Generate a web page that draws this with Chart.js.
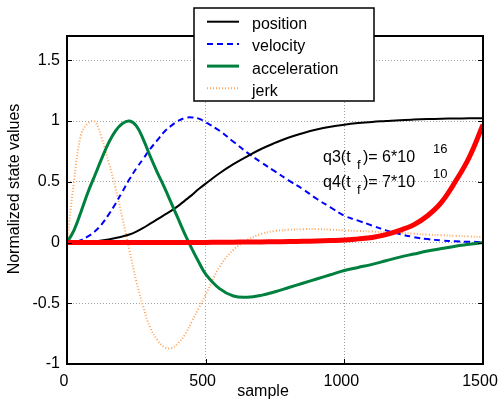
<!DOCTYPE html>
<html>
<head>
<meta charset="utf-8">
<script src="https://cdn.jsdelivr.net/npm/chart.js@4"></script>
<style>
  body { margin: 0; background: #fff; }
  canvas { display: block; }
</style>
</head>
<body>
<canvas id="stateChart" width="498" height="400"></canvas>
<script>
// sample index shared by all series
const samples = [0, 25, 50, 75, 100, 125, 150, 175, 200, 225, 250, 275, 300, 325, 350, 375, 400, 425, 450, 475,
                 500, 550, 600, 650, 700, 750, 800, 850, 900, 950, 1000, 1050, 1100, 1150, 1200, 1250, 1300, 1350, 1400, 1450, 1500];

// normalized states
const position = [0, 0, 0.002, 0.005, 0.01, 0.017, 0.026, 0.037, 0.05, 0.066, 0.09, 0.12, 0.155, 0.19, 0.225, 0.26, 0.3, 0.345, 0.39, 0.44,
                  0.485, 0.57, 0.645, 0.71, 0.77, 0.82, 0.865, 0.9, 0.93, 0.953, 0.97, 0.983, 0.993, 1.0, 1.007, 1.012, 1.016, 1.019, 1.021, 1.022, 1.023];
const velocity = [0, 0.005, 0.02, 0.05, 0.09, 0.15, 0.23, 0.32, 0.42, 0.52, 0.61, 0.69, 0.77, 0.84, 0.91, 0.96, 1.0, 1.025, 1.03, 1.02,
                  0.99, 0.92, 0.83, 0.74, 0.66, 0.585, 0.51, 0.44, 0.36, 0.29, 0.22, 0.18, 0.14, 0.1, 0.07, 0.045, 0.028, 0.017, 0.01, 0.006, 0.005];
const acceleration = [0, 0.1, 0.25, 0.41, 0.55, 0.69, 0.82, 0.92, 0.98, 1.0, 0.96, 0.85, 0.71, 0.58, 0.46, 0.33, 0.2, 0.07, -0.05, -0.16,
                      -0.26, -0.38, -0.44, -0.45, -0.435, -0.405, -0.37, -0.335, -0.3, -0.265, -0.23, -0.205, -0.18, -0.15, -0.12, -0.095, -0.07, -0.05, -0.03, -0.015, 0];
const jerk = [0, 0.5, 0.88, 0.98, 0.995, 0.86, 0.66, 0.45, 0.2, -0.06, -0.32, -0.53, -0.7, -0.8, -0.86, -0.87, -0.83, -0.76, -0.65, -0.54,
              -0.43, -0.2, -0.06, 0.02, 0.07, 0.095, 0.105, 0.11, 0.11, 0.105, 0.1, 0.095, 0.09, 0.085, 0.08, 0.072, 0.065, 0.06, 0.055, 0.05, 0.045];
const q3 = [0, 0, 0, 0, 0, 0, 0, 0, 0, 0, 0, 0, 0, 0, 0, 0, 0, 0, 0, 0.001,
            0.001, 0.002, 0.003, 0.004, 0.005, 0.006, 0.008, 0.01, 0.013, 0.016, 0.02, 0.03, 0.042, 0.065, 0.1, 0.145, 0.22, 0.33, 0.5, 0.7, 0.97];

const xTicks = [0, 500, 1000, 1500];
const yTicks = [-1, -0.5, 0, 0.5, 1, 1.5];
const legendLabels = ['position', 'velocity', 'acceleration', 'jerk'];

const FONT = '"Liberation Sans", Arial, Helvetica, sans-serif';

function toPoints(values) {
    return samples.map((s, i) => ({ x: s, y: values[i] }));
}

// box, inward ticks, axis titles, annotation and the legend box
const framePlugin = {
    id: 'frame',
    beforeDraw(chart) {
        const ctx = chart.ctx;
        ctx.save();
        ctx.fillStyle = '#fff';
        ctx.fillRect(0, 0, chart.width, chart.height);
        ctx.restore();
    },
    afterDraw(chart) {
        const { ctx, chartArea: a, scales: { x, y } } = chart;
        ctx.save();

        // axes box
        ctx.strokeStyle = '#000';
        ctx.lineWidth = 2;
        ctx.setLineDash([]);
        ctx.strokeRect(a.left, a.top, a.right - a.left, a.bottom - a.top);

        // tick marks pointing inwards
        ctx.lineWidth = 1;
        ctx.beginPath();
        xTicks.forEach(v => {
            const px = Math.round(x.getPixelForValue(v)) + 0.5;
            ctx.moveTo(px, a.bottom); ctx.lineTo(px, a.bottom - 5);
            ctx.moveTo(px, a.top); ctx.lineTo(px, a.top + 5);
        });
        yTicks.forEach(v => {
            const py = Math.round(y.getPixelForValue(v)) + 0.5;
            ctx.moveTo(a.left, py); ctx.lineTo(a.left + 5, py);
            ctx.moveTo(a.right, py); ctx.lineTo(a.right - 5, py);
        });
        ctx.stroke();

        // axis titles
        ctx.fillStyle = '#000';
        ctx.font = '16px ' + FONT;
        ctx.textAlign = 'center';
        ctx.textBaseline = 'alphabetic';
        ctx.fillText('sample', 263, 396);
        ctx.save();
        ctx.translate(19, 189);
        ctx.rotate(-Math.PI / 2);
        ctx.fillText('Normalized state values', 0, 0);
        ctx.restore();

        // final value annotation
        ctx.textAlign = 'left';
        const notes = [['q3(t', ')= 6*10', '16', 162], ['q4(t', ')= 7*10', '10', 187]];
        notes.forEach(([head, tail, exp, base]) => {
            ctx.font = '16px ' + FONT;
            ctx.fillText(head, 323, base);
            ctx.fillText(tail, 363, base);
            ctx.font = '13px ' + FONT;
            ctx.fillText('f', 357, base + 7);
            ctx.fillText(exp, 433, base - 9);
        });

        // legend
        const lx = 194, ly = 8, lw = 180, lh = 93;
        ctx.fillStyle = '#fff';
        ctx.fillRect(lx, ly, lw, lh);
        ctx.strokeStyle = '#000';
        ctx.lineWidth = 1.5;
        ctx.strokeRect(lx, ly, lw, lh);
        legendLabels.forEach((label, i) => {
            const ds = chart.data.datasets[i];
            const rowY = 21.7 + i * 22.2;
            ctx.strokeStyle = ds.borderColor;
            ctx.lineWidth = ds.borderWidth;
            ctx.setLineDash(ds.borderDash || []);
            ctx.beginPath();
            ctx.moveTo(207, rowY);
            ctx.lineTo(239, rowY);
            ctx.stroke();
            ctx.setLineDash([]);
            ctx.fillStyle = '#000';
            ctx.font = '16px ' + FONT;
            ctx.fillText(label, 252, rowY + 7.5);
        });

        ctx.restore();
    }
};

const tickFont = { family: FONT, size: 16 };

new Chart(document.getElementById('stateChart'), {
    type: 'line',
    data: {
        datasets: [
            { label: 'position', data: toPoints(position), borderColor: '#000000', borderWidth: 2, order: 3 },
            { label: 'velocity', data: toPoints(velocity), borderColor: '#0000ff', borderWidth: 2, borderDash: [6, 4], order: 4 },
            { label: 'acceleration', data: toPoints(acceleration), borderColor: '#00803f', borderWidth: 3, order: 2 },
            { label: 'jerk', data: toPoints(jerk), borderColor: 'rgb(255,165,90)', borderWidth: 2, borderDash: [1, 2], order: 5 },
            { label: 'q3', data: toPoints(q3), borderColor: '#ff0000', borderWidth: 5, order: 0 }
        ]
    },
    options: {
        responsive: false,
        animation: false,
        devicePixelRatio: 1,
        layout: { padding: { top: 36, right: 15, left: 0, bottom: 0 } },
        plugins: { legend: { display: false }, tooltip: { enabled: false } },
        elements: {
            point: { radius: 0 },
            line: { tension: 0.4, fill: false }
        },
        scales: {
            x: {
                type: 'linear',
                min: 0,
                max: 1500,
                afterBuildTicks: s => { s.ticks = xTicks.map(v => ({ value: v })); },
                afterFit: s => { s.height = 36; s.paddingLeft = 0; s.paddingRight = 0; },
                grid: { color: '#a0a0a0', lineWidth: 1, drawTicks: false },
                border: { display: false, dash: [1, 2] },
                ticks: { color: '#000', font: tickFont, padding: 8, labelOffset: -3, maxRotation: 0, callback: v => String(v) }
            },
            y: {
                type: 'linear',
                min: -1,
                max: 1.7,
                afterBuildTicks: s => { s.ticks = yTicks.map(v => ({ value: v })); },
                afterFit: s => { s.width = 67; s.paddingTop = 0; s.paddingBottom = 0; },
                grid: { color: '#a0a0a0', lineWidth: 1, drawTicks: false },
                border: { display: false, dash: [1, 2] },
                ticks: { color: '#000', font: tickFont, padding: 7, callback: v => String(v) }
            }
        }
    },
    plugins: [framePlugin]
});
</script>
</body>
</html>
